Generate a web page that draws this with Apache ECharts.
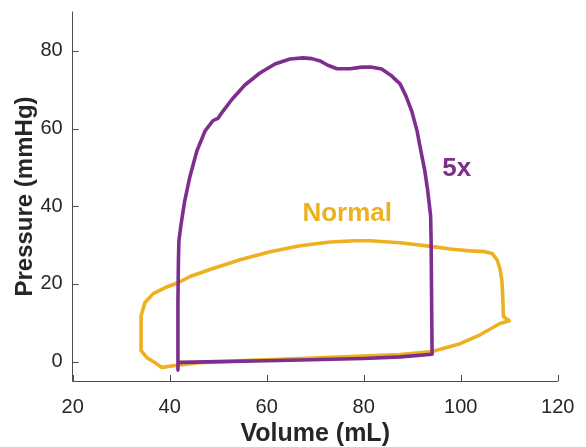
<!DOCTYPE html>
<html><head><meta charset="utf-8">
<script src="https://cdn.jsdelivr.net/npm/echarts@6/dist/echarts.min.js"></script>
<style>html,body{margin:0;padding:0;background:#fff}#c{width:586px;height:447px}</style>
</head><body><div id="c"></div>
<script>
const xTicks = [20, 40, 60, 80, 100, 120];
const yTicks = [0, 20, 40, 60, 80];

const loop5xVolume = [41.7,41.7,41.7,41.8,41.9,42.3,43.1,44.2,45.6,47.3,48.9,50,51,52.9,55.5,58.6,61.7,64.8,67.5,69.3,71,72.6,74.5,77.2,79.6,81.7,83.7,85.8,87.5,88.7,89.9,91,91.8,92.6,93.2,93.8,93.9,94,94.1,87.6,80,67,60,50,42,41.7];
const loop5xPressure = [-2.2,5.4,15.7,26,31.1,35,41.4,47.8,54.2,59.4,62,62.7,64.5,67.6,71.2,74.3,76.6,77.9,78.2,78,77.4,76.3,75.4,75.4,75.8,75.8,75.3,73.5,71.5,68.4,64.5,59.4,54.2,49.1,44,37.5,31.1,15.7,1.9,1.2,0.8,0.4,0.2,0,-0.2,-0.2];

const normalVolume = [110,108.8,108.7,108.5,108.1,107.5,106.5,105,101.9,97.8,94.3,87.5,81.3,78.2,73.1,66.9,60.7,54.5,48.3,44.2,41.7,39,36.6,34.9,34.1,34.1,34.1,35.3,37,38.4,41.1,46.2,56.6,66.9,77.2,87.5,94.1,99.9,104,108.1,110];
const normalPressure = [10.5,11.6,15.7,20.8,23.9,26.2,27.8,28.3,28.5,29,29.6,30.6,31.1,31.1,30.8,29.8,28.3,26.2,23.7,21.9,20.3,19,17.5,15.2,11.8,8,2.8,1,-0.3,-1.5,-1,-0.3,0.3,0.8,1.3,1.8,2.6,4.6,6.9,9.8,10.5];

const labels = [
  {name: '5x', at: [99.2, 49.6], color: '#7E2F8E'},
  {name: 'Normal', at: [76.6, 38], color: '#EDB120'}
];

const zip = (a, b) => a.map((v, i) => [v, b[i]]);
const font = '"Liberation Sans", Arial, Helvetica, sans-serif';
const axisCol = '#4d4d4d';

const chart = echarts.init(document.getElementById('c'), null, {renderer: 'canvas'});
chart.setOption({
  animation: false,
  grid: {left: 72.7, right: 28.3, top: 12, bottom: 66, containLabel: false, outerBoundsMode: 'none'},
  xAxis: {
    type: 'value', min: 20, max: 120, interval: 20,
    name: 'Volume (mL)', nameLocation: 'middle', nameGap: 39,
    nameTextStyle: {fontFamily: font, fontWeight: 'bold', fontSize: 25, color: '#262626'},
    axisLine: {show: true, onZero: false, lineStyle: {color: axisCol, width: 1}},
    axisTick: {show: false},
    axisLabel: {fontFamily: font, fontSize: 20, color: '#262626', margin: 16},
    splitLine: {show: false}
  },
  yAxis: {
    type: 'value', min: -5, max: 90,
    name: 'Pressure (mmHg)', nameLocation: 'middle', nameGap: 35, nameMoveOverlap: false,
    nameTextStyle: {fontFamily: font, fontWeight: 'bold', fontSize: 24, color: '#262626'},
    axisLine: {show: true, onZero: false, lineStyle: {color: axisCol, width: 1}},
    axisTick: {show: false},
    axisLabel: {fontFamily: font, fontSize: 20, color: '#262626', margin: 10, customValues: yTicks},
    splitLine: {show: false}
  },
  series: [
    {
      type: 'line', data: zip(normalVolume, normalPressure), showSymbol: false, symbol: 'none',
      lineStyle: {color: '#EDB120', width: 3.6, join: 'round', cap: 'round'},
      markPoint: {
        symbol: 'circle', symbolSize: 0,
        data: [{coord: labels[1].at, value: labels[1].name}],
        label: {show: true, formatter: labels[1].name, color: labels[1].color, fontFamily: font, fontWeight: 'bold', fontSize: 26, position: 'inside'}
      }
    },
    {
      type: 'line', data: zip(loop5xVolume, loop5xPressure), showSymbol: false, symbol: 'none',
      lineStyle: {color: '#7E2F8E', width: 3.6, join: 'round', cap: 'round'},
      markPoint: {
        symbol: 'circle', symbolSize: 0,
        data: [{coord: labels[0].at, value: labels[0].name}],
        label: {show: true, formatter: labels[0].name, color: labels[0].color, fontFamily: font, fontWeight: 'bold', fontSize: 26, position: 'inside'}
      }
    }
  ]
});
// inside tick marks on both axes, placed through the axis scales
const tickEls = [];
yTicks.forEach(v => {
  const p = chart.convertToPixel({xAxisIndex: 0, yAxisIndex: 0}, [20, v]);
  const y = Math.round(p[1]) + 0.5;
  tickEls.push({type: 'line', shape: {x1: p[0], y1: y, x2: p[0] + 6, y2: y}, style: {stroke: axisCol, lineWidth: 1}, z: 5});
});
xTicks.forEach(v => {
  const p = chart.convertToPixel({xAxisIndex: 0, yAxisIndex: 0}, [v, -5]);
  const x = Math.round(p[0]) + 0.5;
  tickEls.push({type: 'line', shape: {x1: x, y1: p[1], x2: x, y2: p[1] - 6}, style: {stroke: axisCol, lineWidth: 1}, z: 5});
});
chart.setOption({graphic: tickEls});
</script></body></html>
